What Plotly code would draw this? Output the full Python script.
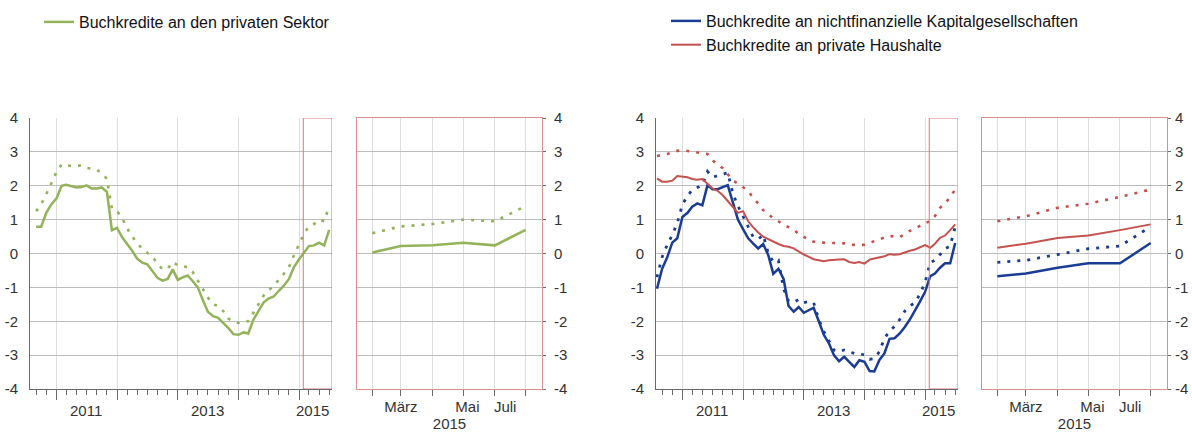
import plotly.graph_objects as go
import pandas as pd

# ---------------- data ----------------
# Monthly annual growth rates (%), private sector loans, Sep 2010 - Jul 2015
green_start = "2010-09-01"
green_solid = [0.79, 0.79, 1.2, 1.45, 1.62, 2.0, 2.03, 1.98, 1.95, 1.96, 2.01, 1.92, 1.92, 1.95, 1.82,
               0.69, 0.76, 0.48, 0.3, 0.08, -0.15, -0.27, -0.32, -0.52, -0.72, -0.8, -0.75, -0.47,
               -0.78, -0.7, -0.65, -0.82, -1.0, -1.38, -1.72, -1.85, -1.9, -2.05, -2.2, -2.38,
               -2.4, -2.33, -2.36, -1.95, -1.72, -1.45, -1.33, -1.27, -1.1, -0.95, -0.75, -0.4,
               -0.17, 0.03, 0.22, 0.24, 0.32, 0.24, 0.70]
green_dotted = [1.25, 1.45, 1.75, 2.07, 2.4, 2.63, 2.6, 2.58, 2.59, 2.6, 2.53, 2.5, 2.47, 2.38, 2.2,
                1.32, 1.25, 1.05, 0.75, 0.5, 0.3, 0.13, 0.02, -0.1, -0.3, -0.47, -0.45, -0.25,
                -0.35, -0.38, -0.4, -0.55, -0.8, -1.05, -1.3, -1.5, -1.55, -1.7, -1.92, -2.02,
                -2.05, -2.0, -2.0, -1.75, -1.5, -1.25, -1.1, -0.95, -0.78, -0.6, -0.4, -0.05,
                0.3, 0.6, 0.8, 0.87, 1.0, 0.95, 1.4]

# Non-financial corporations / households, Aug 2010 - Jul 2015
sector_start = "2010-08-01"
nfc_solid = [-1.04, -0.45, -0.12, 0.32, 0.45, 1.08, 1.2, 1.38, 1.48, 1.42, 2.02, 1.9, 1.9, 1.97, 2.02,
             1.5, 1.0, 0.72, 0.45, 0.3, 0.15, 0.28, -0.05, -0.6, -0.45, -0.75, -1.55, -1.72, -1.58,
             -1.75, -1.68, -1.6, -2.0, -2.4, -2.65, -3.0, -3.18, -3.05, -3.2, -3.35, -3.15, -3.2,
             -3.47, -3.48, -3.14, -2.95, -2.52, -2.5, -2.36, -2.17, -1.95, -1.7, -1.42, -1.13,
             -0.67, -0.59, -0.42, -0.29, -0.29, 0.31]
nfc_dotted = [-0.7, -0.1, 0.25, 0.55, 0.9, 1.45, 1.7, 1.88, 1.95, 2.02, 2.42, 2.25, 2.3, 2.35, 2.38,
              1.77, 1.4, 1.1, 0.8, 0.5, 0.42, 0.55, 0.0, -0.25, -0.2, -1.05, -1.4, -1.45, -1.35,
              -1.45, -1.42, -1.45, -1.95, -2.3, -2.58, -2.85, -2.9, -2.85, -2.9, -2.95, -2.95,
              -3.0, -3.12, -3.1, -2.9, -2.5, -2.3, -2.15, -1.95, -1.7, -1.55, -1.45, -1.2, -0.85,
              -0.26, -0.2, -0.03, 0.14, 0.22, 0.79]
hh_solid = [2.22, 2.12, 2.12, 2.15, 2.29, 2.27, 2.25, 2.2, 2.18, 2.2, 2.05, 1.92, 1.85, 1.72, 1.55,
            1.38, 1.2, 1.25, 0.95, 0.78, 0.62, 0.5, 0.42, 0.35, 0.28, 0.22, 0.2, 0.15, 0.05, -0.03,
            -0.1, -0.17, -0.2, -0.23, -0.2, -0.2, -0.18, -0.17, -0.25, -0.28, -0.25, -0.3, -0.18,
            -0.15, -0.12, -0.08, -0.02, -0.04, -0.02, 0.04, 0.08, 0.12, 0.18, 0.25, 0.17, 0.29,
            0.46, 0.53, 0.69, 0.86]
hh_dotted = [2.88, 2.9, 2.94, 2.98, 3.03, 3.05, 3.03, 3.0, 2.98, 2.97, 2.94, 2.75, 2.62, 2.52, 2.35,
             2.15, 2.07, 1.97, 1.85, 1.65, 1.48, 1.28, 1.15, 1.04, 0.95, 0.84, 0.78, 0.7, 0.58,
             0.48, 0.4, 0.35, 0.32, 0.32, 0.32, 0.32, 0.31, 0.3, 0.26, 0.25, 0.25, 0.26, 0.32,
             0.38, 0.42, 0.47, 0.52, 0.5, 0.48, 0.58, 0.67, 0.73, 0.81, 0.9, 0.95, 1.1, 1.35,
             1.47, 1.67, 1.89]

legend_left = "Buchkredite an den privaten Sektor"
legend_nfc = "Buchkredite an nichtfinanzielle Kapitalgesellschaften"
legend_hh = "Buchkredite an private Haushalte"

year_labels = ["2011", "2013", "2015"]
year_label_pos = ["2011-07-01", "2013-07-01", "2015-03-25"]
year_ticks = ["2011-01-01", "2012-01-01", "2013-01-01", "2014-01-01", "2015-01-01"]
month_labels = ["März", "Mai", "Juli"]
month_label_pos = ["2015-03-01", "2015-05-05", "2015-06-11"]
small_year_label = "2015"
y_ticks = [-4, -3, -2, -1, 0, 1, 2, 3, 4]
y_ticktext = [str(v) for v in y_ticks]

# ---------------- derived dates ----------------
green_dates = pd.date_range(green_start, periods=len(green_solid), freq="MS")
sector_dates = pd.date_range(sector_start, periods=len(nfc_solid), freq="MS")
bimonth_ticks = pd.date_range("2010-09-01", "2015-07-01", freq="2MS")
N_SMALL = 6  # Feb - Jul 2015

LONG_RANGE = ["2010-07-26", "2015-07-18"]
SMALL_RANGE = ["2015-01-17", "2015-07-17"]
RECT_X0 = "2015-01-26"

GREEN = "#93B35B"
BLUE = "#1B3C93"
RED = "#C4524F"
FRAME = "#D9908E"
RECTC = "#D87A78"
GRID_H = "#bdbdbd"
GRID_V = "#dedede"
AXIS = "#6a6a6a"
TXT = "#333333"
FONT = "Liberation Sans, Arial, sans-serif"
DOT = "3px,7px"

W, H = 1192, 432
def xd(a, b):
    return [a / W, b / W]
YDOM = [(H - 389) / H, (H - 118) / H]

fig = go.Figure()

def add(x, y, color, width, dash, xa, ya, name=None, legend=None):
    fig.add_trace(go.Scatter(
        x=x, y=y, mode="lines", xaxis=xa, yaxis=ya,
        line=dict(color=color, width=width, dash=dash),
        name=name or "", showlegend=name is not None,
        legend=legend or "legend", hoverinfo="skip"))

# left pair
add(green_dates, green_dotted, GREEN, 2.6, DOT, "x", "y")
add(green_dates, green_solid, GREEN, 2.5, "solid", "x", "y", legend_left, "legend")
add(green_dates[-N_SMALL:], green_dotted[-N_SMALL:], GREEN, 2.6, DOT, "x2", "y2")
add(green_dates[-N_SMALL:], green_solid[-N_SMALL:], GREEN, 2.5, "solid", "x2", "y2")

# right pair
add(sector_dates, hh_dotted, RED, 2.6, DOT, "x3", "y3")
add(sector_dates, nfc_dotted, BLUE, 2.8, DOT, "x3", "y3")
add(sector_dates, nfc_solid, BLUE, 2.5, "solid", "x3", "y3", legend_nfc, "legend2")
add(sector_dates, hh_solid, RED, 2.0, "solid", "x3", "y3", legend_hh, "legend2")
add(sector_dates[-N_SMALL:], hh_dotted[-N_SMALL:], RED, 2.6, DOT, "x4", "y4")
add(sector_dates[-N_SMALL:], nfc_dotted[-N_SMALL:], BLUE, 2.8, DOT, "x4", "y4")
add(sector_dates[-N_SMALL:], nfc_solid[-N_SMALL:], BLUE, 2.5, "solid", "x4", "y4")
add(sector_dates[-N_SMALL:], hh_solid[-N_SMALL:], RED, 2.0, "solid", "x4", "y4")

tickfont = dict(family=FONT, size=15, color=TXT)

def long_x(domain, anchor):
    return dict(domain=domain, anchor=anchor, type="date", range=LONG_RANGE,
                tickmode="array", tickvals=year_ticks, ticks="outside", ticklen=10,
                tickcolor=AXIS, tickwidth=1, showticklabels=False,
                showgrid=True, gridcolor=GRID_V, gridwidth=1,
                minor=dict(tickmode="array", tickvals=list(bimonth_ticks), ticks="outside",
                           ticklen=5, tickcolor=AXIS, tickwidth=1, showgrid=False),
                showline=True, linecolor=AXIS, linewidth=1, zeroline=False, fixedrange=True)

def long_y(anchor):
    return dict(domain=YDOM, anchor=anchor, range=[-4, 4], tickmode="array",
                tickvals=y_ticks, ticktext=y_ticktext, ticks="", showgrid=True,
                gridcolor=GRID_H, gridwidth=1, showline=True, linecolor=AXIS, linewidth=1,
                zeroline=False, tickfont=tickfont, ticklabelstandoff=8, fixedrange=True)

def small_x(domain, anchor):
    return dict(domain=domain, anchor=anchor, type="date", range=SMALL_RANGE,
                tickmode="array", tickvals=month_label_pos, ticktext=month_labels,
                ticks="", showgrid=False, tickfont=tickfont, ticklabelstandoff=4,
                minor=dict(tickmode="array", tickvals=list(sector_dates[-N_SMALL:]),
                           ticks="outside", ticklen=6, tickcolor=AXIS, tickwidth=1,
                           showgrid=True, gridcolor=GRID_V, gridwidth=1),
                showline=True, mirror=True, linecolor=FRAME, linewidth=1, zeroline=False,
                title=dict(text=small_year_label, font=tickfont, standoff=2), fixedrange=True)

def small_y(anchor, standoff):
    return dict(domain=YDOM, anchor=anchor, side="right", range=[-4, 4], tickmode="array",
                tickvals=y_ticks, ticktext=y_ticktext, ticks="outside", ticklen=3,
                tickcolor=AXIS, showgrid=True, gridcolor=GRID_H, gridwidth=1,
                showline=True, mirror=True, linecolor=FRAME, linewidth=1, zeroline=False,
                tickfont=tickfont, ticklabelstandoff=standoff, fixedrange=True)

annotations = []
shapes = []
for xa in ["x", "x3"]:
    for lab, pos in zip(year_labels, year_label_pos):
        annotations.append(dict(x=pos, y=(H - 410) / H, xref=xa, yref="paper", text=lab,
                                showarrow=False, xanchor="center", yanchor="middle",
                                font=tickfont))
    ya = "y" if xa == "x" else "y3"
    shapes.append(dict(type="rect", xref=xa, yref=ya, x0=RECT_X0, x1=LONG_RANGE[1],
                       y0=-4, y1=4, line=dict(color=RECTC, width=1), layer="above"))

legend_common = dict(xanchor="left", yanchor="top", bgcolor="rgba(0,0,0,0)",
                     font=dict(family=FONT, size=16, color="#111111"),
                     itemwidth=30, tracegroupgap=0, borderwidth=0)

fig.update_layout(
    width=W, height=H, margin=dict(l=0, r=0, t=0, b=0, autoexpand=False),
    paper_bgcolor="white", plot_bgcolor="white",
    font=dict(family=FONT, size=15, color=TXT),
    xaxis=long_x(xd(30, 332), "y"),
    yaxis=long_y("x"),
    xaxis2=small_x(xd(357, 542), "y2"),
    yaxis2=small_y("x2", 5),
    xaxis3=long_x(xd(656, 958), "y3"),
    yaxis3=long_y("x3"),
    xaxis4=small_x(xd(982, 1167), "y4"),
    yaxis4=small_y("x4", 1),
    legend=dict(x=39 / W, y=1 - 5 / H, **legend_common),
    legend2=dict(x=666 / W, y=1 - 4 / H, **legend_common),
    annotations=annotations, shapes=shapes,
    hovermode=False,
)

fig.write_html("out.html", config={"displayModeBar": False},
               post_script="document.body.style.margin='0';document.body.style.overflow='hidden';")
